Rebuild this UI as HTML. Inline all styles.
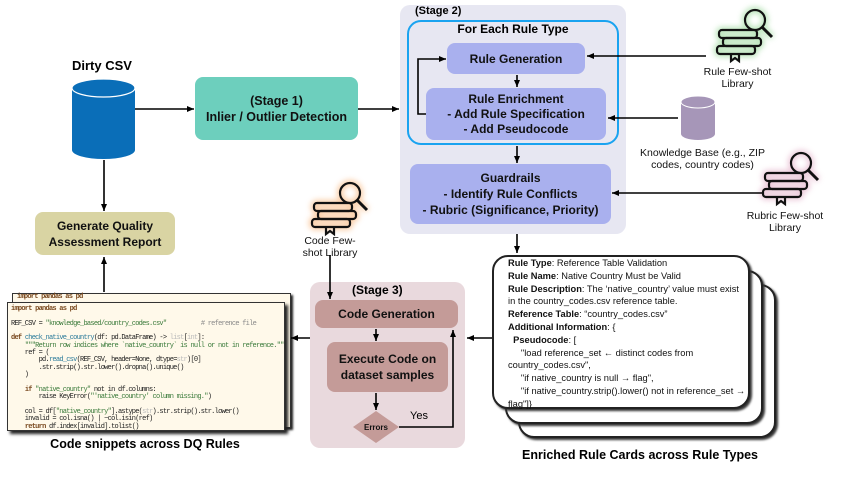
<!DOCTYPE html>
<html><head><meta charset="utf-8"><style>
body{margin:0;width:847px;height:477px;background:#fff;position:relative;overflow:hidden;font-family:"Liberation Sans",Arial,sans-serif;}
.a{position:absolute;box-sizing:border-box;}
.box{display:flex;align-items:center;justify-content:center;text-align:center;font-weight:bold;color:#111;border-radius:8px;}
.lbl{position:absolute;text-align:center;color:#111;font-size:10.5px;line-height:12px;}
.code{font-family:"Liberation Mono",monospace;font-size:7px;letter-spacing:-0.75px;line-height:7.35px;color:#222;white-space:pre;}
.card{background:#fff;border:2px solid #222;border-radius:16px;box-shadow:2px 2px 2px #333;}
.ct{font-size:9.3px;line-height:12.8px;color:#111;}
</style></head><body>

<div class="a" style="left:400px;top:5px;width:226px;height:229px;background:#e7e7f2;border-radius:10px;"></div>
<div class="a" style="left:407px;top:20px;width:212px;height:125px;border:2px solid #1aa3f0;border-radius:14px;"></div>
<div class="a" style="left:415px;top:5px;font-weight:bold;font-size:11px;">(Stage 2)</div>
<div class="a" style="left:407px;top:22px;width:212px;text-align:center;font-weight:bold;font-size:12px;">For Each Rule Type</div>
<div class="a box" style="left:447px;top:43px;width:138px;height:31px;background:#a9b0ee;font-size:12px;">Rule Generation</div>
<div class="a box" style="left:426px;top:88px;width:180px;height:52px;background:#a9b0ee;font-size:12px;line-height:15px;">Rule Enrichment<br>- Add Rule Specification<br>- Add Pseudocode</div>
<div class="a box" style="left:410px;top:164px;width:201px;height:60px;background:#a9b0ee;font-size:12px;line-height:16px;">Guardrails<br>- Identify Rule Conflicts<br>- Rubric (Significance, Priority)</div>

<div class="a" style="left:72px;top:58px;font-weight:bold;font-size:13px;">Dirty CSV</div>
<div class="a box" style="left:195px;top:77px;width:163px;height:63px;background:#6dcfbd;font-size:12.5px;line-height:16px;">(Stage 1)<br>Inlier / Outlier Detection</div>
<div class="a box" style="left:35px;top:212px;width:140px;height:43px;background:#d9d4a3;font-size:12px;line-height:16px;">Generate Quality<br>Assessment Report</div>

<div class="a" style="left:310px;top:282px;width:155px;height:166px;background:#e9d9dd;border-radius:10px;"></div>
<div class="a" style="left:352px;top:283px;font-weight:bold;font-size:12px;">(Stage 3)</div>
<div class="a box" style="left:315px;top:300px;width:143px;height:28px;background:#c49b98;font-size:12px;">Code Generation</div>
<div class="a box" style="left:327px;top:342px;width:121px;height:50px;background:#c49b98;font-size:12px;line-height:16px;">Execute Code on<br>dataset samples</div>
<div class="a" style="left:410px;top:410px;font-size:11px;">Yes</div>

<div class="a" style="left:12px;top:293px;width:279px;height:135px;background:#fff9ea;border:1px solid #333;box-shadow:2px 2px 2px #222;"></div>
<div class="a code" style="left:17px;top:294px;font-weight:bold;color:#7a4a20;">import pandas as pd</div>
<div class="a" style="left:7px;top:302px;width:278px;height:129px;background:#fff9ea;border:1px solid #333;box-shadow:3px 3px 3px #222;overflow:hidden;">
<div class="a code" style="left:3px;top:3px;"><b style="color:#7a4a20">import pandas as pd</b>

REF_CSV = <span style="color:#3a7a3a">"knowledge_based/country_codes.csv"</span>          <span style="color:#888"># reference file</span>

<b style="color:#7a4a20">def</b> <span style="color:#2a7a9a">check_native_country</span>(df: pd.DataFrame) -> <span style="color:#bbb">list</span>[<span style="color:#bbb">int</span>]:
    <span style="color:#3a7a3a">"""Return row indices where `native_country` is null or not in reference."""</span>
    ref = (
        pd.<span style="color:#2a7a9a">read_csv</span>(REF_CSV, header=None, dtype=<span style="color:#bbb">str</span>)[0]
        .str.strip().str.lower().dropna().unique()
    )

    <b style="color:#7a4a20">if</b> <span style="color:#3a7a3a">"native_country"</span> not in df.columns:
        raise KeyError(<span style="color:#3a7a3a">"'native_country' column missing."</span>)

    col = df[<span style="color:#3a7a3a">"native_country"</span>].astype(<span style="color:#bbb">str</span>).str.strip().str.lower()
    invalid = col.isna() | ~col.isin(ref)
    <b style="color:#7a4a20">return</b> df.index[invalid].tolist()</div></div>
<div class="a" style="left:0;top:437px;width:290px;text-align:center;font-weight:bold;font-size:12.5px;">Code snippets across DQ Rules</div>

<div class="a card" style="left:518px;top:284px;width:258px;height:154px;"></div>
<div class="a card" style="left:505px;top:270px;width:258px;height:154px;"></div>
<div class="a card" style="left:492px;top:255px;width:258px;height:154px;"></div>
<div class="a ct" style="left:508px;top:257px;width:240px;">
<b>Rule Type</b>: Reference Table Validation<br>
<b>Rule Name</b>: Native Country Must be Valid<br>
<b>Rule Description</b>: The ‘native_country’ value must exist in the country_codes.csv reference table.<br>
<b>Reference Table</b>: “country_codes.csv”<br>
<b>Additional Information</b>: {<br>
&nbsp;&nbsp;<b>Pseudocode</b>: [<br>
&nbsp;&nbsp;&nbsp;&nbsp;&nbsp;"load reference_set ← distinct codes from country_codes.csv",<br>
&nbsp;&nbsp;&nbsp;&nbsp;&nbsp;"if native_country is null → flag",<br>
&nbsp;&nbsp;&nbsp;&nbsp;&nbsp;"if native_country.strip().lower() not in reference_set → flag"]}
</div>
<div class="a" style="left:490px;top:448px;width:300px;text-align:center;font-weight:bold;font-size:12.5px;">Enriched Rule Cards across Rule Types</div>

<div class="lbl" style="left:690px;top:66px;width:95px;">Rule Few-shot<br>Library</div>
<div class="lbl" style="left:630px;top:147px;width:145px;">Knowledge Base (e.g., ZIP<br>codes, country codes)</div>
<div class="lbl" style="left:735px;top:210px;width:100px;">Rubric Few-shot<br>Library</div>
<div class="lbl" style="left:290px;top:235px;width:80px;">Code Few-<br>shot Library</div>

<svg class="a" style="left:0;top:0" width="847" height="477" viewBox="0 0 847 477">
<defs>
<marker id="ah" markerWidth="8" markerHeight="8" refX="7" refY="4" orient="auto" markerUnits="userSpaceOnUse"><path d="M0,1 L7,4 L0,7 Z" fill="#000"/></marker>
<filter id="g" x="-50%" y="-50%" width="200%" height="200%"><feGaussianBlur stdDeviation="3"/></filter>
<g id="ic">
<g fill="none" stroke="#111" stroke-width="2.2">
<rect x="2" y="22" width="38" height="8" rx="3"/>
<rect x="6" y="30" width="38" height="8" rx="3"/>
<rect x="0" y="38" width="38" height="8" rx="3"/>
<path d="M14,46 v7 l4,-3 l4,3 v-7"/>
<circle cx="38" cy="12" r="10"/>
<line x1="45" y1="19" x2="55" y2="29" stroke-width="3"/>
</g></g>
<g id="gl" fill="none" stroke-width="6">
<rect x="2" y="22" width="38" height="8" rx="3"/>
<rect x="6" y="30" width="38" height="8" rx="3"/>
<rect x="0" y="38" width="38" height="8" rx="3"/>
<circle cx="38" cy="12" r="10"/>
<line x1="45" y1="19" x2="55" y2="29"/>
</g>
</defs>
<path d="M72,88 v62 a31.5,9 0 0 0 63,0 v-62" fill="#0a6eb8"/>
<ellipse cx="103.5" cy="88" rx="31.5" ry="9" fill="#0a6eb8" stroke="#fff" stroke-width="1.2"/>
<path d="M681,102 v32 a17,6 0 0 0 34,0 v-32" fill="#a696b8"/>
<ellipse cx="698" cy="102" rx="17" ry="6" fill="#a696b8" stroke="#fff" stroke-width="1"/>
<g transform="translate(717,8)"><g filter="url(#g)" stroke="#9ad89a" opacity="0.7"><use href="#gl"/></g><use href="#ic"/></g>
<g transform="translate(763,151)"><g filter="url(#g)" stroke="#e3b0c8" opacity="0.7"><use href="#gl"/></g><use href="#ic"/></g>
<g transform="translate(312,181)"><g filter="url(#g)" stroke="#f8b880" opacity="0.7"><use href="#gl"/></g><use href="#ic"/></g>
<g stroke="#000" stroke-width="1.6" fill="none">
<line x1="135" y1="109" x2="194" y2="109" marker-end="url(#ah)"/>
<line x1="358" y1="109" x2="399" y2="109" marker-end="url(#ah)"/>
<line x1="104" y1="160" x2="104" y2="211" marker-end="url(#ah)"/>
<line x1="104" y1="292" x2="104" y2="257" marker-end="url(#ah)"/>
<line x1="517" y1="75" x2="517" y2="87" marker-end="url(#ah)"/>
<line x1="517" y1="146" x2="517" y2="163" marker-end="url(#ah)"/>
<line x1="517" y1="234" x2="517" y2="253" marker-end="url(#ah)"/>
<polyline points="426,114 418,114 418,59 446,59" marker-end="url(#ah)"/>
<line x1="706" y1="56" x2="587" y2="56" marker-end="url(#ah)"/>
<line x1="678" y1="118" x2="608" y2="118" marker-end="url(#ah)"/>
<line x1="762" y1="193" x2="612" y2="193" marker-end="url(#ah)"/>
<line x1="330" y1="255" x2="330" y2="299" marker-end="url(#ah)"/>
<line x1="376" y1="329" x2="376" y2="341" marker-end="url(#ah)"/>
<line x1="376" y1="393" x2="376" y2="410" marker-end="url(#ah)"/>
<polyline points="399,427 453,427 453,330" marker-end="url(#ah)"/>
<line x1="310" y1="338" x2="291" y2="338" marker-end="url(#ah)"/>
<line x1="492" y1="338" x2="467" y2="338" marker-end="url(#ah)"/>
</g>
<polygon points="376,411 399,427 376,443 353,427" fill="#c49b98"/>
<text x="376" y="430" text-anchor="middle" font-family="Liberation Sans" font-weight="bold" font-size="8" fill="#111">Errors</text>
</svg>
</body></html>
